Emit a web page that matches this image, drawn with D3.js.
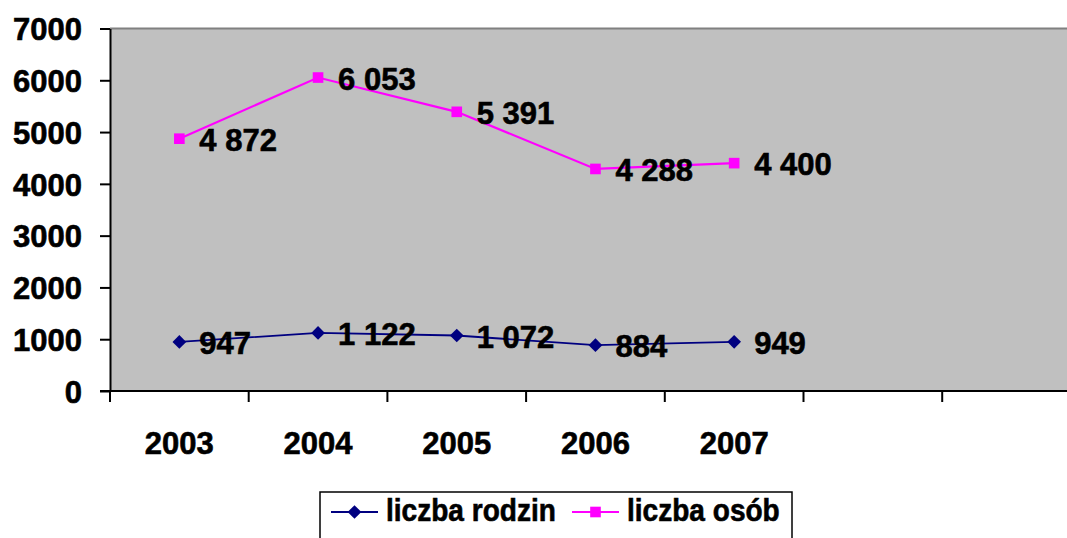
<!DOCTYPE html>
<html>
<head>
<meta charset="utf-8">
<script src="https://cdn.jsdelivr.net/npm/d3@7"></script>
<style>
  body { margin: 0; background: #fff; }
  text { font-family: "Liberation Sans", Arial, sans-serif; font-weight: bold; fill: #000; stroke: #000; stroke-width: 0.6px; }
</style>
</head>
<body>
<div id="graf"></div>
<script>
// dane
const lata = ["2003", "2004", "2005", "2006", "2007"]
const sloty = ["2003", "2004", "2005", "2006", "2007", "s6", "s7"]
const liczbaRodzin = [947, 1122, 1072, 884, 949]
const liczbaOsob = [4872, 6053, 5391, 4288, 4400]
const yTicks = [0, 1000, 2000, 3000, 4000, 5000, 6000, 7000]
const nazwy = ["liczba rodzin", "liczba osób"]

const anchoTotal = 1067
const altoTotal = 538

const margins = { top: 28.5, left: 110, bottom: 391 }

const svg = d3.select("#graf").append("svg")
    .attr("width", anchoTotal).attr("height", altoTotal)

const x = d3.scaleBand().domain(sloty).range([margins.left, margins.left + 7 * 138.7])
const y = d3.scaleLinear().domain([0, 7000]).range([margins.bottom, margins.top])

// tlo wykresu
svg.append("rect")
    .attr("x", margins.left).attr("y", margins.top)
    .attr("width", anchoTotal - margins.left).attr("height", margins.bottom - margins.top)
    .attr("fill", "#c0c0c0")
svg.append("line")
    .attr("x1", margins.left).attr("x2", anchoTotal)
    .attr("y1", margins.top).attr("y2", margins.top)
    .attr("stroke", "#808080").attr("stroke-width", 2)

// os Y
const yAxis = svg.append("g")
    .attr("transform", `translate(${margins.left},0)`)
    .call(d3.axisLeft(y).tickValues(yTicks).tickSize(10).tickSizeOuter(0).tickPadding(18).tickFormat(d3.format("d")))
yAxis.selectAll("path, line").attr("stroke", "#000").attr("stroke-width", 2)
yAxis.selectAll("text").style("font-size", "31px").attr("dy", "0.36em")

// os X
svg.append("line")
    .attr("x1", margins.left - 10).attr("x2", anchoTotal)
    .attr("y1", margins.bottom).attr("y2", margins.bottom)
    .attr("stroke", "#000").attr("stroke-width", 2)
svg.selectAll(".xtick").data(sloty).enter().append("line")
    .attr("class", "xtick")
    .attr("x1", d => x(d)).attr("x2", d => x(d))
    .attr("y1", margins.bottom).attr("y2", margins.bottom + 11)
    .attr("stroke", "#000").attr("stroke-width", 2)
svg.selectAll(".xlab").data(lata).enter().append("text")
    .attr("class", "xlab")
    .attr("x", d => x(d) + x.bandwidth() / 2)
    .attr("y", 454)
    .attr("text-anchor", "middle")
    .style("font-size", "31px")
    .text(d => d)

const cx = (d, i) => x(lata[i]) + x.bandwidth() / 2
const linia = d3.line().x(cx).y(d => y(d))
const fmt = v => d3.format(",")(v).replace(",", " ")

const serie = [
    { dane: liczbaRodzin, kolor: "#000080", szer: 1.8, marker: d3.symbolDiamond2, rozmiar: 120 },
    { dane: liczbaOsob, kolor: "#ff00ff", szer: 2.2, marker: d3.symbolSquare2, rozmiar: 144 }
]

serie.forEach(s => {
    svg.append("path").datum(s.dane)
        .attr("d", linia).attr("fill", "none")
        .attr("stroke", s.kolor).attr("stroke-width", s.szer)
    svg.selectAll(null).data(s.dane).enter().append("path")
        .attr("transform", (d, i) => `translate(${cx(d, i)},${y(d)})`)
        .attr("d", d3.symbol().type(s.marker).size(s.rozmiar))
        .attr("fill", s.kolor)
    svg.selectAll(null).data(s.dane).enter().append("text")
        .attr("x", (d, i) => cx(d, i) + 20)
        .attr("y", d => y(d) + 1)
        .attr("dy", "0.36em")
        .style("font-size", "31px")
        .text(fmt)
})

// legenda
const leg = svg.append("g")
leg.append("rect")
    .attr("x", 320).attr("y", 492).attr("width", 472).attr("height", 60)
    .attr("fill", "#fff").attr("stroke", "#000").attr("stroke-width", 1.5)
const legX = [331, 572]
serie.forEach((s, i) => {
    leg.append("line")
        .attr("x1", legX[i]).attr("x2", legX[i] + 47)
        .attr("y1", 512).attr("y2", 512)
        .attr("stroke", s.kolor).attr("stroke-width", 2.2)
    leg.append("path")
        .attr("transform", `translate(${legX[i] + 23.5},512)`)
        .attr("d", d3.symbol().type(s.marker).size(s.rozmiar))
        .attr("fill", s.kolor)
    leg.append("text")
        .attr("transform", `translate(${legX[i] + 55},521) scale(0.92,1)`)
        .style("font-size", "30.5px")
        .text(nazwy[i])
})
</script>
</body>
</html>
